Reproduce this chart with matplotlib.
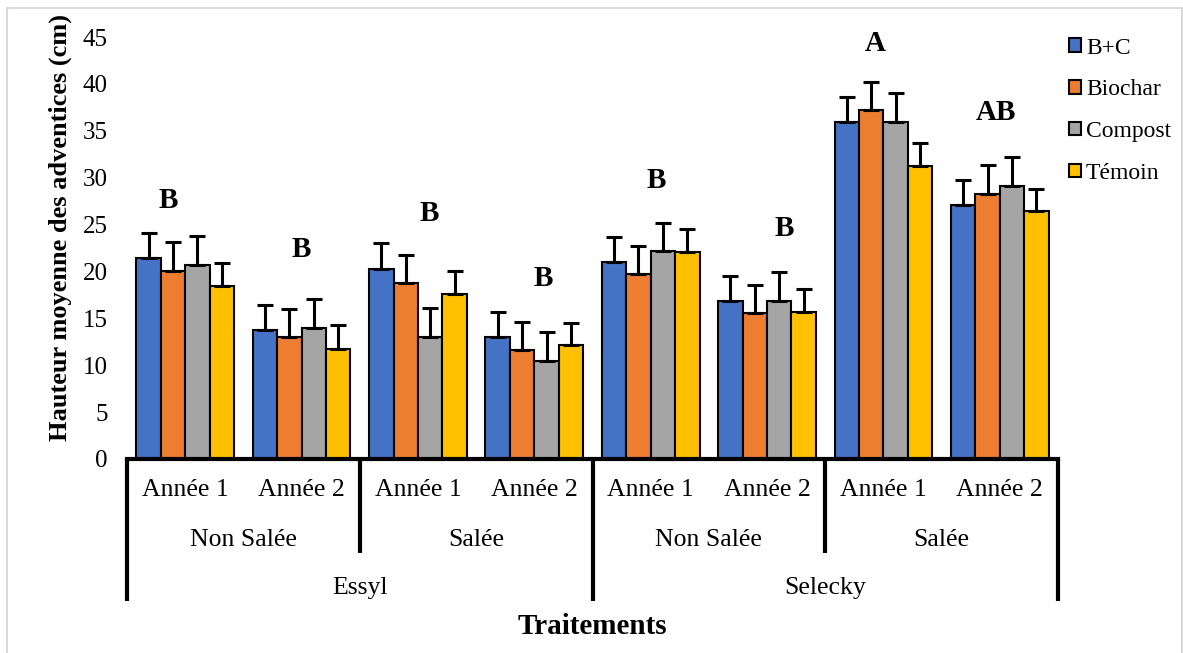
import numpy as np
import matplotlib.pyplot as plt
from matplotlib.patches import Rectangle

plt.rcParams['font.family'] = ['Liberation Serif', 'DejaVu Serif']

series = ['B+C', 'Biochar', 'Compost', 'Témoin']
colors = ['#4472C4', '#ED7D31', '#A5A5A5', '#FFC000']

annees = ['Année 1', 'Année 2'] * 4
sols = ['Non Salée', 'Salée', 'Non Salée', 'Salée']
varietes = ['Essyl', 'Selecky']

# moyennes par groupe (8 groupes) pour chaque traitement
bc = [21.4, 13.75, 20.3, 13.0, 21.0, 16.9, 35.9, 27.05]
biochar = [20.1, 13.0, 18.8, 11.6, 19.7, 15.6, 37.2, 28.3]
compost = [20.65, 14.0, 13.0, 10.4, 22.15, 16.8, 35.9, 29.1]
temoin = [18.5, 11.75, 17.6, 12.15, 22.05, 15.65, 31.2, 26.4]

# écarts (barres d'erreur supérieures)
err_bc = [2.7, 2.7, 2.7, 2.65, 2.65, 2.65, 2.7, 2.65]
err_biochar = [3.0, 3.0, 3.0, 3.05, 3.0, 3.0, 3.05, 3.1]
err_compost = [3.15, 3.1, 3.1, 3.1, 3.05, 3.1, 3.1, 3.15]
err_temoin = [2.4, 2.5, 2.5, 2.4, 2.45, 2.45, 2.45, 2.4]

lettres = ['B', 'B', 'B', 'B', 'B', 'B', 'A', 'AB']
lettres_y = [27.6, 22.3, 26.2, 19.3, 29.75, 24.6, 44.3, 36.9]
lettres_dx = [-0.15, 0.0, 0.1, 0.08, 0.05, 0.15, -0.07, -0.03]

values = [bc, biochar, compost, temoin]
errors = [err_bc, err_biochar, err_compost, err_temoin]

fig = plt.figure(figsize=(11.83, 6.53), dpi=100)
ax = fig.add_axes([0.1074, 0.2971, 0.7869, 0.6462])

x = np.arange(8) + 0.5
w = 0.21
for i, (name, col) in enumerate(zip(series, colors)):
    xs = x + (i - 1.5) * w
    ax.bar(xs, values[i], w, color=col, edgecolor='black', linewidth=1.5,
           label=name, zorder=2)
    ax.errorbar(xs, values[i], yerr=[np.zeros(8), errors[i]], fmt='none',
                ecolor='black', elinewidth=2.2, capsize=6, capthick=2.2, zorder=3)

for xi, l, ly, dx in zip(x, lettres, lettres_y, lettres_dx):
    ax.text(xi + dx, ly, l, ha='center', va='center', fontsize=21,
            fontweight='bold')

ax.set_xlim(0, 8)
ax.set_ylim(0, 45)
ax.set_yticks(np.arange(0, 46, 5))
ax.tick_params(axis='y', length=0, labelsize=18, pad=14)
ax.set_xticks([])
for s in ['top', 'right', 'left']:
    ax.spines[s].set_visible(False)
ax.spines['bottom'].set_linewidth(3)

trans = ax.get_xaxis_transform()
for xi, a in zip(x, annees):
    ax.text(xi, -0.073, a, transform=trans, ha='center', va='center', fontsize=18.5)
for k, s in enumerate(sols):
    ax.text(2 * k + 1, -0.192, s, transform=trans, ha='center', va='center', fontsize=18.5)
for k, v in enumerate(varietes):
    ax.text(4 * k + 2, -0.306, v, transform=trans, ha='center', va='center', fontsize=18.5)

for xv in [2, 6]:
    ax.plot([xv, xv], [0, -0.222], transform=trans, color='black', lw=3,
            clip_on=False, solid_capstyle='butt')
for xv in [0, 4, 8]:
    ax.plot([xv, xv], [0, -0.336], transform=trans, color='black', lw=3,
            clip_on=False, solid_capstyle='butt')

ax.text(4, -0.398, 'Traitements', transform=trans, ha='center', va='center',
        fontsize=21, fontweight='bold')
fig.text(0.051, 0.652, 'Hauteur moyenne des adventices (cm)', rotation=90,
         ha='center', va='center', fontsize=19, fontweight='bold')

fig.legend(loc='upper left', bbox_to_anchor=(0.886, 0.975), frameon=False,
           fontsize=17, handlelength=0.5, handleheight=0.5,
           handletextpad=0.2, labelspacing=0.88)

fig.patches.append(Rectangle((7 / 1183, -0.01), 1175 / 1183, 1 - 8 / 653 + 0.01,
                             transform=fig.transFigure, fill=False,
                             edgecolor='#d9d9d9', lw=1.5))

fig.savefig('out.png', dpi=100)
